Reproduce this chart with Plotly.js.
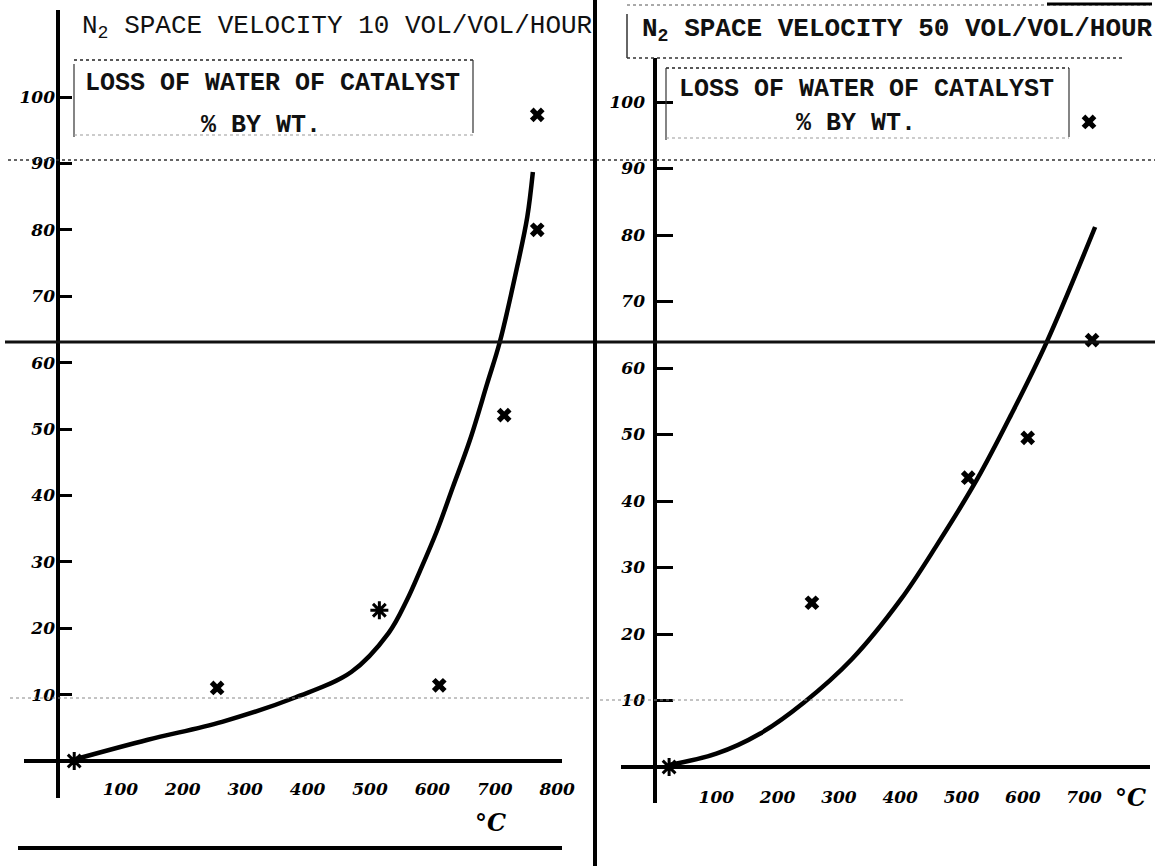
<!DOCTYPE html>
<html>
<head>
<meta charset="utf-8">
<script src="https://cdn.plot.ly/plotly-3.0.1.min.js"></script>
<style>html,body{margin:0;padding:0;background:#fff;}#chart{width:1155px;height:866px;}</style>
</head>
<body>
<div id="chart"></div>
<script>
// ---- data ----
// Left panel: N2 space velocity 10 vol/vol/hour
const leftCurveT = [29, 144, 263, 381, 470, 530, 559, 580, 607, 633, 660, 688, 708, 736, 752, 761];
const leftCurveLoss = [0.3, 3.2, 5.9, 9.6, 13.4, 19.3, 24.2, 28.6, 34.6, 41.3, 48.3, 56.9, 63.1, 74.5, 81.9, 88.7];
const leftPointT = [255, 611, 715, 768, 768];
const leftPointLoss = [11.0, 11.4, 52.1, 80, 97.3];
const leftStarT = [26, 515];
const leftStarLoss = [0, 22.7];
// Right panel: N2 space velocity 50 vol/vol/hour
const rightCurveT = [23, 100, 171, 243, 321, 401, 460, 525, 580, 639, 718];
const rightCurveLoss = [0.3, 2.0, 5.0, 9.7, 16.2, 25.2, 33.4, 43.2, 52.8, 63.9, 81.2];
const rightPointT = [256, 511, 608, 713, 708];
const rightPointLoss = [24.7, 43.5, 49.5, 64.2, 97];
const rightStarT = [23];
const rightStarLoss = [0];
// tick labels
const leftXTicks = [100, 200, 300, 400, 500, 600, 700, 800];
const rightXTicks = [100, 200, 300, 400, 500, 600, 700];
const yTicks = [10, 20, 30, 40, 50, 60, 70, 80, 90, 100];
const leftTitle = "N<sub>2</sub> SPACE VELOCITY 10 VOL/VOL/HOUR";
const rightTitle = "N<sub>2</sub> SPACE VELOCITY 50 VOL/VOL/HOUR";
const boxLine1 = "LOSS OF WATER OF CATALYST";
const boxLine2 = "% BY WT.";
const unitLabel = "°C";

// ---- layout helpers ----
const W = 1155, H = 866;
const fx = p => p / W;
const fy = p => 1 - p / H;

const tickFont = {family: 'DejaVu Serif', size: 17, weight: 'bold', style: 'italic', color: '#000'};
const typeFont = (size, weight) => ({family: 'Liberation Mono', size: size, weight: weight, color: '#111'});

const curveLine = {color: '#000', width: 4.5, shape: 'spline', smoothing: 1};
const xMarker = {symbol: 'x', size: 13, color: '#000', line: {width: 0}};
const starMarker = {symbol: 'asterisk-open', size: 15, color: '#000', line: {width: 3, color: '#000'}};

const traces = [
  {x: leftCurveT, y: leftCurveLoss, mode: 'lines', line: curveLine, xaxis: 'x', yaxis: 'y', hoverinfo: 'skip'},
  {x: leftPointT, y: leftPointLoss, mode: 'markers', marker: xMarker, xaxis: 'x', yaxis: 'y'},
  {x: leftStarT, y: leftStarLoss, mode: 'markers', marker: starMarker, xaxis: 'x', yaxis: 'y'},
  {x: rightCurveT, y: rightCurveLoss, mode: 'lines', line: curveLine, xaxis: 'x2', yaxis: 'y2', hoverinfo: 'skip'},
  {x: rightPointT, y: rightPointLoss, mode: 'markers', marker: xMarker, xaxis: 'x2', yaxis: 'y2'},
  {x: rightStarT, y: rightStarLoss, mode: 'markers', marker: starMarker, xaxis: 'x2', yaxis: 'y2'}
];

function xAxis(domain, range, posY, ticks, standoff) {
  return {
    domain: domain, range: range, anchor: 'free', position: posY,
    showgrid: false, showline: false, zeroline: true, zerolinecolor: '#000', zerolinewidth: 4,
    ticks: '', tickvals: ticks, ticktext: ticks.map(String), tickfont: tickFont,
    ticklabelstandoff: standoff, fixedrange: true
  };
}
function yAxis(domain, range, posX, ticklen, standoff) {
  return {
    domain: domain, range: range, anchor: 'free', position: posX,
    showgrid: false, showline: false, zeroline: true, zerolinecolor: '#000', zerolinewidth: 4,
    ticks: 'inside', ticklen: ticklen, tickwidth: 3, tickcolor: '#000',
    tickvals: yTicks, ticktext: yTicks.map(String), tickfont: tickFont,
    ticklabelstandoff: standoff, fixedrange: true
  };
}

const layout = {
  width: W, height: H, margin: {l: 0, r: 0, t: 0, b: 0},
  paper_bgcolor: '#fff', plot_bgcolor: 'rgba(0,0,0,0)', showlegend: false,
  xaxis: xAxis([fx(24), fx(562)], [(24 - 58) / 0.624, (562 - 58) / 0.624], fy(761), leftXTicks, 16),
  yaxis: yAxis([fy(798), fy(10)], [(761 - 798) / 6.64, (761 - 10) / 6.64], fx(58), 13, 3),
  xaxis2: xAxis([fx(621), fx(1150)], [(621 - 655) / 0.613, (1150 - 655) / 0.613], fy(767), rightXTicks, 18),
  yaxis2: yAxis([fy(803), fy(58)], [(767 - 803) / 6.65, (767 - 58) / 6.65], fx(655), 17, 10),
  shapes: [
    {type: 'line', xref: 'paper', yref: 'paper', x0: fx(8), x1: fx(1155), y0: fy(160), y1: fy(160), line: {color: '#333', width: 1.5, dash: 'dot'}},
    {type: 'line', xref: 'paper', yref: 'paper', x0: fx(5), x1: fx(1155), y0: fy(342), y1: fy(342), line: {color: '#111', width: 3}},
    {type: 'line', xref: 'paper', yref: 'paper', x0: fx(10), x1: fx(590), y0: fy(698), y1: fy(698), line: {color: '#888', width: 1, dash: 'dot'}},
    {type: 'line', xref: 'paper', yref: 'paper', x0: fx(600), x1: fx(905), y0: fy(700), y1: fy(700), line: {color: '#888', width: 1, dash: 'dot'}},
    {type: 'line', xref: 'paper', yref: 'paper', x0: fx(595), x1: fx(595), y0: fy(0), y1: fy(866), line: {color: '#000', width: 4}},
    {type: 'line', xref: 'paper', yref: 'paper', x0: fx(18), x1: fx(562), y0: fy(848), y1: fy(848), line: {color: '#000', width: 4}},
    {type: 'line', xref: 'paper', yref: 'paper', x0: fx(627), x1: fx(1150), y0: fy(5), y1: fy(5), line: {color: '#555', width: 1, dash: 'dot'}},
    {type: 'line', xref: 'paper', yref: 'paper', x0: fx(1047), x1: fx(1152), y0: fy(4), y1: fy(4), line: {color: '#000', width: 3}},
    {type: 'line', xref: 'paper', yref: 'paper', x0: fx(627), x1: fx(1125), y0: fy(58), y1: fy(58), line: {color: '#333', width: 1.5, dash: 'dot'}},
    {type: 'line', xref: 'paper', yref: 'paper', x0: fx(627), x1: fx(627), y0: fy(14), y1: fy(58), line: {color: '#333', width: 1.5}},
    {type: 'line', xref: 'paper', yref: 'paper', x0: fx(74), x1: fx(473), y0: fy(60), y1: fy(60), line: {color: '#222', width: 1.5, dash: 'dot'}},
    {type: 'line', xref: 'paper', yref: 'paper', x0: fx(74), x1: fx(74), y0: fy(64), y1: fy(137), line: {color: '#333', width: 1.2}},
    {type: 'line', xref: 'paper', yref: 'paper', x0: fx(473), x1: fx(473), y0: fy(60), y1: fy(133), line: {color: '#333', width: 1.2}},
    {type: 'line', xref: 'paper', yref: 'paper', x0: fx(74), x1: fx(473), y0: fy(135), y1: fy(135), line: {color: '#999', width: 1, dash: 'dot'}},
    {type: 'line', xref: 'paper', yref: 'paper', x0: fx(666), x1: fx(1069), y0: fy(68), y1: fy(68), line: {color: '#222', width: 1.5, dash: 'dot'}},
    {type: 'line', xref: 'paper', yref: 'paper', x0: fx(666), x1: fx(666), y0: fy(68), y1: fy(140), line: {color: '#333', width: 1.2}},
    {type: 'line', xref: 'paper', yref: 'paper', x0: fx(1069), x1: fx(1069), y0: fy(68), y1: fy(137), line: {color: '#333', width: 1.2}},
    {type: 'line', xref: 'paper', yref: 'paper', x0: fx(666), x1: fx(1069), y0: fy(138), y1: fy(138), line: {color: '#999', width: 1, dash: 'dot'}}
  ],
  annotations: [
    {xref: 'paper', yref: 'paper', x: fx(80), y: fy(27), xanchor: 'left', yanchor: 'middle', text: leftTitle, showarrow: false, font: typeFont(26, 'normal')},
    {xref: 'paper', yref: 'paper', x: fx(640), y: fy(30), xanchor: 'left', yanchor: 'middle', text: rightTitle, showarrow: false, font: typeFont(26, 'bold')},
    {xref: 'paper', yref: 'paper', x: fx(272), y: fy(84), xanchor: 'center', yanchor: 'middle', text: boxLine1, showarrow: false, font: typeFont(25, 'bold')},
    {xref: 'paper', yref: 'paper', x: fx(261), y: fy(125), xanchor: 'center', yanchor: 'middle', text: boxLine2, showarrow: false, font: typeFont(25, 'bold')},
    {xref: 'paper', yref: 'paper', x: fx(866), y: fy(89), xanchor: 'center', yanchor: 'middle', text: boxLine1, showarrow: false, font: typeFont(25, 'bold')},
    {xref: 'paper', yref: 'paper', x: fx(856), y: fy(123), xanchor: 'center', yanchor: 'middle', text: boxLine2, showarrow: false, font: typeFont(25, 'bold')},
    {xref: 'paper', yref: 'paper', x: fx(490), y: fy(822), xanchor: 'center', yanchor: 'middle', text: unitLabel, showarrow: false, font: {family: 'DejaVu Serif', size: 24, weight: 'bold', style: 'italic', color: '#000'}},
    {xref: 'paper', yref: 'paper', x: fx(1130), y: fy(797), xanchor: 'center', yanchor: 'middle', text: unitLabel, showarrow: false, font: {family: 'DejaVu Serif', size: 24, weight: 'bold', style: 'italic', color: '#000'}}
  ]
};

Plotly.newPlot('chart', traces, layout, {displayModeBar: false, staticPlot: true});
</script>
</body>
</html>
